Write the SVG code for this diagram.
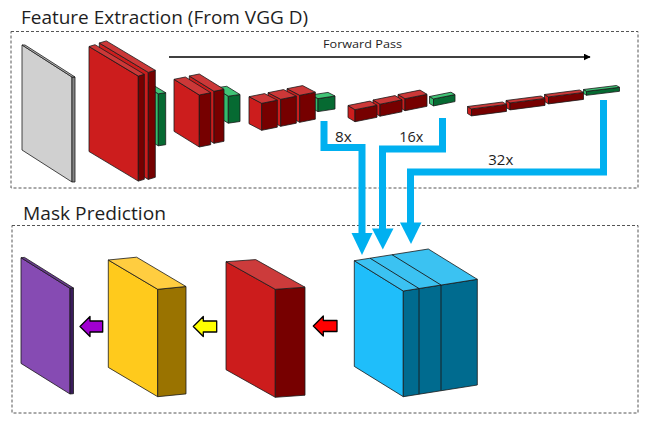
<svg xmlns="http://www.w3.org/2000/svg" width="647" height="421" viewBox="0 0 647 421">
<style>
  polygon{stroke:#1a1a1a;stroke-width:0.8;stroke-linejoin:round}
  .rf{fill:#cc1d1d}.rs{fill:#760000}.rt{fill:#cc3838}
  .gf{fill:#34bb6c}.gs{fill:#066a32}.gt{fill:#40c476}
  .frame{fill:none;stroke:#555;stroke-width:1;stroke-dasharray:3 2}
  .title{font-family:"Open Sans","Noto Sans","Liberation Sans",sans-serif;font-size:18px;fill:#1e1e1e}
  .lbl{font-family:"Open Sans","Noto Sans","Liberation Sans",sans-serif;font-size:14px;fill:#1e1e1e}
  .blue{fill:none;stroke:#00b0f0;stroke-width:7;stroke-linejoin:miter}
  .bhead{fill:#00b0f0;stroke:none}
  .arr{stroke:#000;stroke-width:1.3}
</style>
<defs>
  <marker id="fwd" viewBox="0 0 10 10" refX="9" refY="5" markerWidth="7" markerHeight="7" markerUnits="userSpaceOnUse" orient="auto">
    <path d="M0,0 L10,5 L0,10 z" fill="#000"/>
  </marker>
</defs>
<rect width="647" height="421" fill="#fff"/>

<g id="frames">
  <rect class="frame" x="11" y="31.5" width="627" height="156.5"/>
  <rect class="frame" x="12" y="225.5" width="626" height="187.5"/>
</g>
<text class="title" x="21" y="24" textLength="287" lengthAdjust="spacingAndGlyphs">Feature Extraction (From VGG D)</text>
<text class="title" x="23" y="219.5" textLength="143" lengthAdjust="spacingAndGlyphs">Mask Prediction</text>

<g id="input">
  <polygon fill="#d0d0d0" points="22,45 72,77 72,182 22,150"/>
  <polygon fill="#858585" points="72,77 75,77 75,182 72,182"/>
  <polygon fill="#b8b8b8" points="22,45 25,45 75,77 72,77"/>
</g>

<g id="conv1">
  <polygon class="gf" points="132,78 158.3,93.8 158.3,145.8 132,130"/>
  <polygon class="gs" points="158.3,93.8 165.7,92.7 165.7,144.7 158.3,145.8"/>
  <polygon class="gt" points="132,78 139.4,76.9 165.7,92.7 158.3,93.8"/>
  <polygon class="rf" points="99.3,43 148.3,72.4 148.3,179.4 99.3,150"/>
  <polygon class="rs" points="148.3,72.4 155.3,70.3 155.3,177.3 148.3,179.4"/>
  <polygon class="rt" points="99.3,43 106.3,40.9 155.3,70.3 148.3,72.4"/>
  <polygon class="rf" points="89,46.5 138.3,76.1 138.3,181.1 89,151.5"/>
  <polygon class="rs" points="138.3,76.1 144.3,74.3 144.3,179.3 138.3,181.1"/>
  <polygon class="rt" points="89,46.5 95,44.7 144.3,74.3 138.3,76.1"/>
</g>

<g id="conv2">
  <polygon class="gf" points="215,88 228.3,96.2 228.3,123.2 215,115"/>
  <polygon class="gs" points="228.3,96.2 240,94.5 240,121.5 228.3,123.2"/>
  <polygon class="gt" points="215,88 226.7,86.3 240,94.5 228.3,96.2"/>
  <polygon class="rf" points="189.3,76 214,91.3 214,143.3 189.3,128"/>
  <polygon class="rs" points="214,91.3 224,89.3 224,141.3 214,143.3"/>
  <polygon class="rt" points="189.3,76 199.3,74 224,89.3 214,91.3"/>
  <polygon class="rf" points="174,79.3 199.3,95 199.3,147 174,131.3"/>
  <polygon class="rs" points="199.3,95 210.7,92.7 210.7,144.7 199.3,147"/>
  <polygon class="rt" points="174,79.3 185.4,77 210.7,92.7 199.3,95"/>
</g>

<g id="conv3">
  <polygon class="gf" points="311,95 318,98.6 318,111.6 311,108"/>
  <polygon class="gs" points="318,98.6 335,96 335,109 318,111.6"/>
  <polygon class="gt" points="311,95 328,92.4 335,96 318,98.6"/>
  <polygon class="rf" points="287,88.7 299.7,95.3 299.7,122.3 287,115.7"/>
  <polygon class="rs" points="299.7,95.3 315.3,92.2 315.3,119.2 299.7,122.3"/>
  <polygon class="rt" points="287,88.7 302.6,85.6 315.3,92.2 299.7,95.3"/>
  <polygon class="rf" points="268,92.7 280.7,99.3 280.7,126.3 268,119.7"/>
  <polygon class="rs" points="280.7,99.3 296.3,96.2 296.3,123.2 280.7,126.3"/>
  <polygon class="rt" points="268,92.7 283.6,89.6 296.3,96.2 280.7,99.3"/>
  <polygon class="rf" points="249,96.7 261.7,103.3 261.7,130.3 249,123.7"/>
  <polygon class="rs" points="261.7,103.3 277.3,100.2 277.3,127.2 261.7,130.3"/>
  <polygon class="rt" points="249,96.7 264.6,93.6 277.3,100.2 261.7,103.3"/>
</g>

<g id="conv4">
  <polygon class="gf" points="429.5,96.5 433.5,98.9 433.5,105.9 429.5,103.5"/>
  <polygon class="gs" points="433.5,98.9 455,94.6 455,101.6 433.5,105.9"/>
  <polygon class="gt" points="429.5,96.5 451,92.2 455,94.6 433.5,98.9"/>
  <polygon class="rf" points="398,94.5 405,98.7 405,110.7 398,106.5"/>
  <polygon class="rs" points="405,98.7 427,94.3 427,106.3 405,110.7"/>
  <polygon class="rt" points="398,94.5 420,90.1 427,94.3 405,98.7"/>
  <polygon class="rf" points="373,100 380,104.2 380,116.2 373,112"/>
  <polygon class="rs" points="380,104.2 402,99.8 402,111.8 380,116.2"/>
  <polygon class="rt" points="373,100 395,95.6 402,99.8 380,104.2"/>
  <polygon class="rf" points="348,105.5 355,109.7 355,121.7 348,117.5"/>
  <polygon class="rs" points="355,109.7 377,105.3 377,117.3 355,121.7"/>
  <polygon class="rt" points="348,105.5 370,101.1 377,105.3 355,109.7"/>
</g>

<g id="conv5">
  <polygon class="gf" points="583.5,89.5 586.5,91.3 586.5,95.3 583.5,93.5"/>
  <polygon class="gs" points="586.5,91.3 619.5,87.3 619.5,91.3 586.5,95.3"/>
  <polygon class="gt" points="583.5,89.5 616.5,85.5 619.5,87.3 586.5,91.3"/>
  <polygon class="rf" points="544.5,94.5 548.5,96.9 548.5,103.9 544.5,101.5"/>
  <polygon class="rs" points="548.5,96.9 583.5,92.4 583.5,99.4 548.5,103.9"/>
  <polygon class="rt" points="544.5,94.5 579.5,90 583.5,92.4 548.5,96.9"/>
  <polygon class="rf" points="506,100.5 510,102.9 510,109.9 506,107.5"/>
  <polygon class="rs" points="510,102.9 545,98.4 545,105.4 510,109.9"/>
  <polygon class="rt" points="506,100.5 541,96 545,98.4 510,102.9"/>
  <polygon class="rf" points="467.5,106.5 471.5,108.9 471.5,115.9 467.5,113.5"/>
  <polygon class="rs" points="471.5,108.9 506.5,104.4 506.5,111.4 471.5,115.9"/>
  <polygon class="rt" points="467.5,106.5 502.5,102 506.5,104.4 471.5,108.9"/>
</g>

<g id="fused">
  <polygon fill="#1fbefa" points="354.3,260.7 403.3,291 403.3,396.7 354.3,366.4"/>
  <polygon fill="#006b8f" points="403.3,291 477.3,279.3 477.3,385 403.3,396.7"/>
  <polygon fill="#3bc2f2" points="354.3,260.7 428.3,249 477.3,279.3 403.3,291"/>
  <path d="M419,288.5 V394.2 M441,285 V390.7 M419,288.5 L370,258.2 M441,285 L392,254.7" stroke="#1a1a1a" stroke-width="0.9" fill="none"/>
</g>

<g id="red-map">
  <polygon fill="#cc1c1c" points="226,261.7 275.3,289.3 275.3,397.3 226,369.7"/>
  <polygon fill="#770000" points="275.3,289.3 305,287.2 305,395.2 275.3,397.3"/>
  <polygon fill="#cc3b3b" points="226,261.7 255.7,259.6 305,287.2 275.3,289.3"/>
</g>

<g id="yellow-map">
  <polygon fill="#ffca1c" points="108.3,260 157.7,289.3 157.7,396.7 108.3,367.4"/>
  <polygon fill="#9a7300" points="157.7,289.3 186,286.5 186,393.9 157.7,396.7"/>
  <polygon fill="#ffcd40" points="108.3,260 136.6,257.2 186,286.5 157.7,289.3"/>
</g>

<g id="mask">
  <polygon fill="#864bb3" points="21,257.7 70,288.3 70,394 21,363.4"/>
  <polygon fill="#3a1c5c" points="70,288.3 73.5,288 73.5,393.7 70,394"/>
  <polygon fill="#6a3a92" points="21,257.7 24.5,257.4 73.5,288 70,288.3"/>
</g>

<g id="connectors">
  <line x1="169" y1="57" x2="590" y2="57" stroke="#000" stroke-width="1.5" marker-end="url(#fwd)"/>
  <path class="blue" d="M324,121 V147.5 H362 V234"/>
  <polygon class="bhead" points="351.5,233 372.5,233 362,255"/>
  <path class="blue" d="M442.5,118 V149 H382.5 V229"/>
  <polygon class="bhead" points="372,228.5 393.5,228.5 382.8,249.5"/>
  <path class="blue" d="M603.5,100 V172 H410.5 V223"/>
  <polygon class="bhead" points="400,222.5 421.5,222.5 411,244"/>
  <polygon class="arr" fill="#ff0000" points="313.3,326 323.3,316 323.3,320.5 337,320.5 337,331.5 323.3,331.5 323.3,336"/>
  <polygon class="arr" fill="#ffff00" points="193.3,326.5 203.3,316.5 203.3,321 216.7,321 216.7,332 203.3,332 203.3,336.5"/>
  <polygon class="arr" fill="#a000d0" points="80,326.5 90,316.5 90,321 102.7,321 102.7,332 90,332 90,336.5"/>
</g>

<text class="lbl" style="font-size:11.5px" x="323" y="48.3" textLength="79" lengthAdjust="spacingAndGlyphs">Forward Pass</text>
<text class="lbl" x="335" y="141.5" textLength="16.7" lengthAdjust="spacingAndGlyphs">8x</text>
<text class="lbl" x="399.3" y="141.5" textLength="24" lengthAdjust="spacingAndGlyphs">16x</text>
<text class="lbl" x="488.3" y="165" textLength="25" lengthAdjust="spacingAndGlyphs">32x</text>
</svg>
